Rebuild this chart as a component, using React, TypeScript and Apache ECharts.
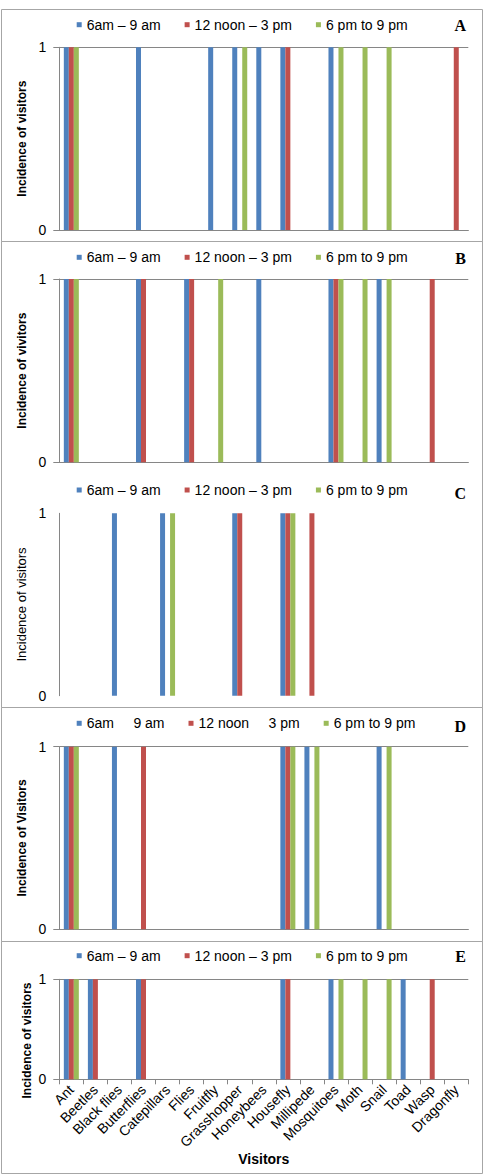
import React, { useEffect, useRef } from "react";
import * as echarts from "echarts";

const categories = [
  "Ant", "Beetles", "Black flies", "Butterflies", "Catepillars", "Flies", "Fruitfly",
  "Grasshopper", "Honeybees", "Housefly", "Millipede", "Mosquitoes", "Moth", "Snail",
  "Toad", "Wasp", "Dragonfly",
];
const seriesNames = ["6am – 9 am", "12 noon – 3 pm", "6 pm to 9 pm"];
const seriesNamesD = ["6am     9 am", "12 noon     3 pm", "6 pm to 9 pm"];
const yTickLabels = ["0", "1"];

// Panel A
const aMorning = [1, 0, 0, 1, 0, 0, 1, 1, 1, 1, 0, 1, 0, 0, 0, 0, 0];
const aNoon = [1, 0, 0, 0, 0, 0, 0, 0, 0, 1, 0, 0, 0, 0, 0, 0, 1];
const aEvening = [1, 0, 0, 0, 0, 0, 0, 1, 0, 0, 0, 1, 1, 1, 0, 0, 0];
// Panel B
const bMorning = [1, 0, 0, 1, 0, 1, 0, 0, 1, 0, 0, 1, 0, 1, 0, 0, 0];
const bNoon = [1, 0, 0, 1, 0, 1, 0, 0, 0, 0, 0, 1, 0, 0, 0, 1, 0];
const bEvening = [1, 0, 0, 0, 0, 0, 1, 0, 0, 0, 0, 1, 1, 1, 0, 0, 0];
// Panel C
const cMorning = [0, 0, 1, 0, 1, 0, 0, 1, 0, 1, 0, 0, 0, 0, 0, 0, 0];
const cNoon = [0, 0, 0, 0, 0, 0, 0, 1, 0, 1, 1, 0, 0, 0, 0, 0, 0];
const cEvening = [0, 0, 0, 0, 1, 0, 0, 0, 0, 1, 0, 0, 0, 0, 0, 0, 0];
// Panel D
const dMorning = [1, 0, 1, 0, 0, 0, 0, 0, 0, 1, 1, 0, 0, 1, 0, 0, 0];
const dNoon = [1, 0, 0, 1, 0, 0, 0, 0, 0, 1, 0, 0, 0, 0, 0, 0, 0];
const dEvening = [1, 0, 0, 0, 0, 0, 0, 0, 0, 1, 1, 0, 0, 1, 0, 0, 0];
// Panel E
const eMorning = [1, 1, 0, 1, 0, 0, 0, 0, 0, 1, 0, 1, 0, 0, 1, 0, 0];
const eNoon = [1, 1, 0, 1, 0, 0, 0, 0, 0, 1, 0, 0, 0, 0, 0, 1, 0];
const eEvening = [1, 0, 0, 0, 0, 0, 0, 0, 0, 0, 0, 1, 1, 1, 0, 0, 0];

const colors = ["#4F81BD", "#C0504D", "#9BBB59"];
const GREY = "#868686";
const FONT = "Liberation Sans, Arial, sans-serif";

const panels = [
  { letter: "A", data: [aMorning, aNoon, aEvening], names: seriesNames, top: 47.3, height: 182.7, legendY: 25.7, titleY: 26, yName: "Incidence of visitors", bold: true, grid: true, xLine: true, labels: false },
  { letter: "B", data: [bMorning, bNoon, bEvening], names: seriesNames, top: 279, height: 183.3, legendY: 258.3, titleY: 259.3, yName: "Incidence of vivitors", bold: true, grid: true, xLine: true, labels: false },
  { letter: "C", data: [cMorning, cNoon, cEvening], names: seriesNames, top: 513.3, height: 182.4, legendY: 491, titleY: 494.3, yName: "Incidence of visitors", bold: false, grid: false, xLine: false, labels: false },
  { letter: "D", data: [dMorning, dNoon, dEvening], names: seriesNamesD, top: 746.7, height: 182.6, legendY: 724.3, titleY: 727.7, yName: "Incidence of Visitors", bold: true, grid: true, xLine: true, labels: false },
  { letter: "E", data: [eMorning, eNoon, eEvening], names: seriesNames, top: 979.3, height: 100, legendY: 956.7, titleY: 957.7, yName: "", bold: true, grid: true, xLine: true, labels: true },
];

export default function App() {
  const ref = useRef<HTMLDivElement>(null);
  useEffect(() => {
    if (!ref.current) return;
    const chart = echarts.init(ref.current, undefined, { renderer: "svg" });
    const grids: any[] = [];
    const xAxes: any[] = [];
    const yAxes: any[] = [];
    const series: any[] = [];
    const legends: any[] = [];
    const titles: any[] = [];
    panels.forEach((p, i) => {
      grids.push({ left: 59.3, right: 21.7, top: p.top, height: p.height, containLabel: false });
      xAxes.push({
        type: "category",
        gridIndex: i,
        data: categories,
        boundaryGap: true,
        axisLine: { show: p.xLine, lineStyle: { color: GREY, width: 1 } },
        axisTick: { show: p.labels, length: 5, lineStyle: { color: GREY } },
        axisLabel: {
          show: p.labels,
          interval: 0,
          rotate: 45,
          margin: 8,
          fontSize: 14,
          fontFamily: FONT,
          color: "#000",
        },
        name: p.labels ? "Visitors" : "",
        nameLocation: "middle",
        nameGap: 68,
        nameTextStyle: { fontSize: 14, fontWeight: "bold", fontFamily: FONT, color: "#000" },
      });
      yAxes.push({
        type: "value",
        gridIndex: i,
        min: 0,
        max: 1,
        interval: 1,
        axisLine: { show: true, lineStyle: { color: GREY, width: 1 } },
        axisTick: { show: p.grid, length: 6, lineStyle: { color: GREY } },
        splitLine: { show: p.grid, lineStyle: { color: GREY, width: 1 } },
        axisLabel: {
          margin: 13,
          fontSize: 14,
          fontFamily: FONT,
          color: "#000",
          formatter: (v: number) => yTickLabels[v] ?? String(v),
        },
        name: p.yName,
        nameLocation: "middle",
        nameGap: 27,
        nameTextStyle: { fontSize: p.bold ? 12 : 13, fontWeight: p.bold ? "bold" : "normal", fontFamily: FONT, color: "#000" },
      });
      p.data.forEach((d, k) => {
        series.push({
          type: "bar",
          name: p.names[k],
          xAxisIndex: i,
          yAxisIndex: i,
          data: d,
          barWidth: 5,
          barGap: "0%",
          itemStyle: { color: colors[k] },
        });
      });
      legends.push({
        data: p.names.map((n, k) => ({ name: n, itemStyle: { color: colors[k] } })),
        left: 76.7,
        top: p.legendY - 8,
        padding: 0,
        itemWidth: 5,
        itemHeight: 5,
        itemGap: 24,
        icon: "rect",
        selectedMode: false,
        textStyle: { fontSize: 14, fontFamily: FONT, color: "#000" },
      });
      titles.push({
        text: p.letter,
        right: 24,
        top: p.titleY - 9,
        padding: 0,
        textStyle: { fontSize: 16, fontWeight: "bold", fontFamily: "Liberation Serif, Times New Roman, serif", color: "#000" },
      });
    });

    const option: any = {
      animation: false,
      color: colors,
      backgroundColor: "#fff",
      title: titles,
      legend: legends,
      grid: grids,
      xAxis: xAxes,
      yAxis: yAxes,
      series,
      graphic: [
        { type: "rect", shape: { x: 1.5, y: 9.5, width: 481, height: 232 }, style: { fill: "none", stroke: "#a6a6a6", lineWidth: 1 }, silent: true },
        { type: "rect", shape: { x: 1.5, y: 241.5, width: 481, height: 466 }, style: { fill: "none", stroke: "#a6a6a6", lineWidth: 1 }, silent: true },
        { type: "rect", shape: { x: 1.5, y: 707.5, width: 481, height: 234 }, style: { fill: "none", stroke: "#a6a6a6", lineWidth: 1 }, silent: true },
        { type: "rect", shape: { x: 1.5, y: 941.5, width: 481, height: 232 }, style: { fill: "none", stroke: "#a6a6a6", lineWidth: 1 }, silent: true },
        {
          type: "text",
          x: 27,
          y: 1040.5,
          rotation: Math.PI / 2,
          style: {
            text: "Incidence of visitors",
            fontSize: 12,
            fontWeight: "bold",
            fontFamily: FONT,
            fill: "#000",
            align: "center",
            verticalAlign: "middle",
          },
          silent: true,
        },
      ],
    };
    chart.setOption(option);
    return () => chart.dispose();
  }, []);
  return <div ref={ref} style={{ position: "fixed", left: 0, top: 0, width: 490, height: 1174, background: "#fff" }} />;
}
